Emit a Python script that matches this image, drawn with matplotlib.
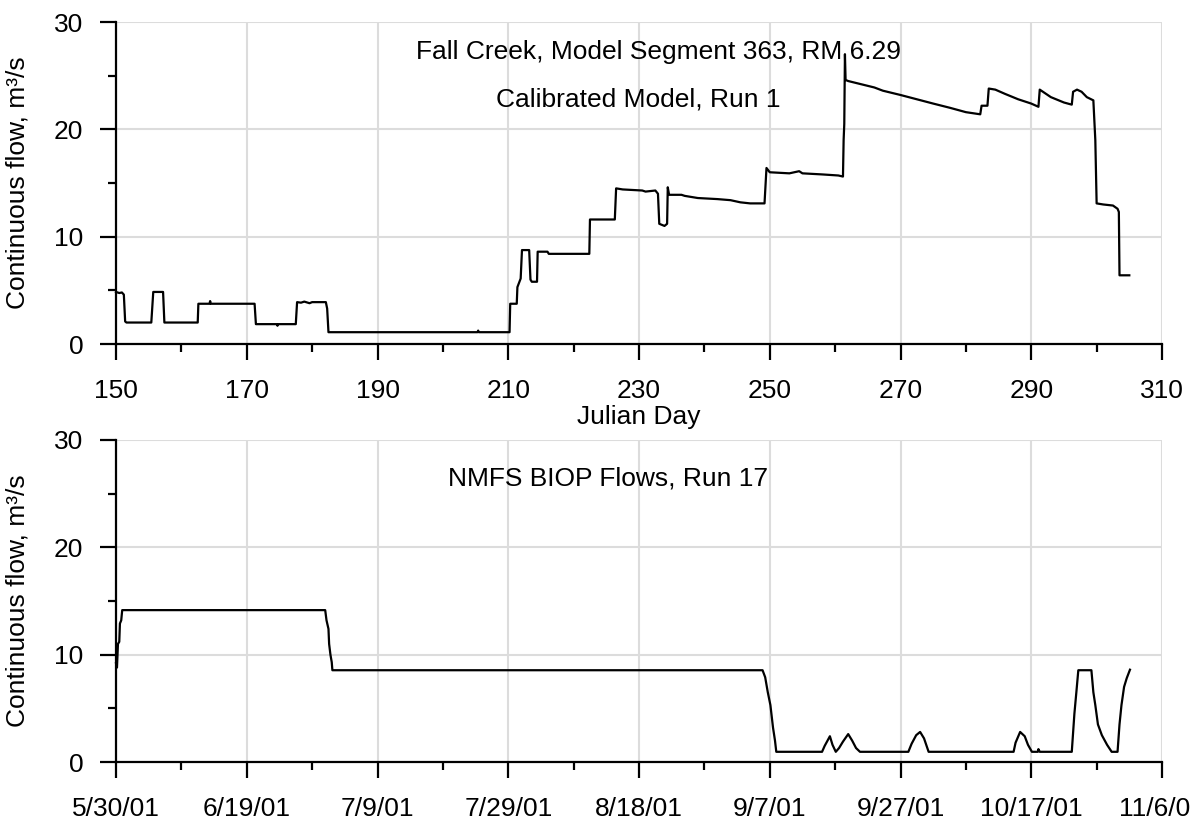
import matplotlib
matplotlib.use("Agg")
import matplotlib.pyplot as plt
from matplotlib.ticker import MultipleLocator, FixedLocator, FixedFormatter

plt.rcParams['font.family'] = ['Liberation Sans', 'DejaVu Sans']

# ---- Data: top panel (Calibrated Model, Run 1) ----
top_day = [150.0, 150.5, 150.9, 151.2, 151.4, 151.6, 155.4, 155.7, 157.2, 157.4,
           162.5, 162.6, 164.3, 164.4, 164.5, 171.2, 171.4, 174.6, 174.7, 174.8,
           177.5, 177.7, 178.3, 178.8, 179.6, 180.0, 182.1, 182.3, 182.5, 205.3,
           205.4, 205.5, 210.2, 210.3, 211.3, 211.4, 211.9, 212.1, 213.2, 213.4,
           213.6, 214.4, 214.5, 216.0, 216.2, 222.4, 222.5, 226.3, 226.5, 227.5,
           230.5, 231.0, 232.5, 232.9, 233.1, 233.9, 234.3, 234.4, 234.6, 236.5,
           237.0, 239.0, 242.0, 244.0, 245.5, 247.0, 249.2, 249.5, 250.0, 253.0,
           254.5, 255.0, 258.0, 260.5, 261.2, 261.3, 261.4, 261.5, 261.6, 262.0,
           264.0, 266.0, 267.3, 270.0, 272.5, 275.0, 277.6, 280.0, 282.2, 282.4,
           283.3, 283.5, 284.5, 286.0, 288.0, 290.0, 291.1, 291.3, 293.0, 295.0,
           296.2, 296.4, 297.0, 297.7, 298.5, 299.5, 299.8, 300.0, 301.0, 302.5,
           303.2, 303.4, 303.5, 305.0]
top_flow = [4.85, 4.75, 4.8, 4.6, 2.1, 2.0, 2.0, 4.85, 4.85, 2.0,
            2.0, 3.75, 3.75, 4.0, 3.75, 3.75, 1.85, 1.85, 1.7, 1.85,
            1.85, 3.9, 3.85, 3.95, 3.8, 3.9, 3.9, 3.3, 1.1, 1.1,
            1.25, 1.1, 1.1, 3.75, 3.75, 5.3, 6.1, 8.75, 8.75, 6.0,
            5.8, 5.8, 8.6, 8.6, 8.4, 8.4, 11.6, 11.6, 14.5, 14.4,
            14.3, 14.2, 14.3, 14.0, 11.2, 11.0, 11.2, 14.6, 13.9, 13.9,
            13.8, 13.6, 13.5, 13.4, 13.2, 13.1, 13.1, 16.4, 16.0, 15.9,
            16.1, 15.9, 15.8, 15.7, 15.6, 19.0, 20.5, 27.0, 24.6, 24.5,
            24.2, 23.9, 23.6, 23.2, 22.8, 22.4, 22.0, 21.6, 21.4, 22.2,
            22.2, 23.8, 23.7, 23.3, 22.8, 22.4, 22.1, 23.7, 23.0, 22.5,
            22.3, 23.5, 23.7, 23.5, 23.0, 22.7, 19.0, 13.1, 13.0, 12.9,
            12.6, 12.3, 6.4, 6.4]

# ---- Data: bottom panel (NMFS BIOP Flows, Run 17) ----
bot_day = [150.0, 150.15, 150.3, 150.5, 150.6, 150.8, 150.95, 182.0, 182.2, 182.5,
           182.6, 182.8, 183.0, 183.1, 248.9, 249.3, 249.7, 250.1, 250.5, 250.8,
           251.0, 258.0, 258.4, 259.2, 259.6, 260.1, 260.6, 261.2, 262.0, 262.6,
           263.2, 263.8, 271.2, 271.7, 272.4, 273.0, 273.6, 274.3, 287.3, 287.6,
           288.3, 289.0, 289.5, 290.1, 291.0, 291.1, 291.3, 296.2, 296.6, 296.9,
           297.2, 299.2, 299.5, 299.8, 300.2, 300.8, 301.6, 302.3, 303.2, 303.5,
           303.8, 304.2, 304.6, 305.1]
bot_flow = [9.2, 8.8, 11.0, 11.2, 12.9, 13.2, 14.15, 14.15, 13.2, 12.4,
            11.0, 10.0, 9.3, 8.55, 8.55, 7.9, 6.5, 5.3, 3.2, 2.0,
            0.95, 0.95, 1.5, 2.4, 1.6, 0.95, 1.3, 1.9, 2.6, 2.0,
            1.3, 0.95, 0.95, 1.7, 2.5, 2.8, 2.2, 0.95, 0.95, 1.8,
            2.8, 2.4, 1.6, 0.95, 0.95, 1.2, 0.95, 0.95, 4.5, 6.5,
            8.55, 8.55, 6.5, 5.3, 3.5, 2.5, 1.6, 0.95, 0.95, 3.5,
            5.3, 7.0, 7.8, 8.6]

x_ticks = [150, 170, 190, 210, 230, 250, 270, 290, 310]
top_tick_labels = ['150', '170', '190', '210', '230', '250', '270', '290', '310']
bot_tick_labels = ['5/30/01', '6/19/01', '7/9/01', '7/29/01', '8/18/01',
                   '9/7/01', '9/27/01', '10/17/01', '11/6/01']
y_ticks = [0, 10, 20, 30]

FS = 19
W, H = 1192, 825
fig = plt.figure(figsize=(W / 100, H / 100), dpi=100)

def px_axes(left, right, top, bottom):
    return fig.add_axes([left / W, 1 - bottom / H, (right - left) / W, (bottom - top) / H])

ax1 = px_axes(116, 1162, 22, 344)
ax2 = px_axes(116, 1162, 440, 762)

for ax, labels in ((ax1, top_tick_labels), (ax2, bot_tick_labels)):
    ax.set_xlim(150, 310)
    ax.set_ylim(0, 30)
    ax.xaxis.set_major_locator(FixedLocator(x_ticks))
    ax.xaxis.set_major_formatter(FixedFormatter(labels))
    ax.xaxis.set_minor_locator(MultipleLocator(10))
    ax.yaxis.set_major_locator(FixedLocator(y_ticks))
    ax.yaxis.set_minor_locator(MultipleLocator(5))
    for s in ('top', 'right'):
        ax.spines[s].set_visible(False)
    for s in ('left', 'bottom'):
        ax.spines[s].set_linewidth(1.6)
        ax.spines[s].set_color('black')
    ax.grid(True, which='major', color='#dcdcdc', linewidth=1.5)
    ax.set_axisbelow(True)
    ax.tick_params(which='major', direction='out', length=11.5, width=1.6,
                   labelsize=FS, colors='black')
    ax.tick_params(which='minor', direction='out', length=6, width=1.6, colors='black')
    ax.tick_params(axis='x', which='major', pad=14)
    ax.tick_params(axis='y', which='major', pad=12)
    ax.set_ylabel('Continuous flow, m³/s', fontsize=FS)
    ax.yaxis.set_label_coords((30 - 116) / 1046, 0.5)

ax1.plot(top_day, top_flow, color='black', linewidth=1.6, clip_on=False)
ax2.plot(bot_day, bot_flow, color='black', linewidth=1.6, clip_on=False)

ax1.set_xlabel('Julian Day', fontsize=FS, labelpad=1)

fig.text(658 / W, 1 - 52 / H, 'Fall Creek, Model Segment 363, RM 6.29',
         fontsize=FS, ha='center', va='center')
fig.text(638 / W, 1 - 100 / H, 'Calibrated Model, Run 1',
         fontsize=FS, ha='center', va='center')
fig.text(608 / W, 1 - 479 / H, 'NMFS BIOP Flows, Run 17',
         fontsize=FS, ha='center', va='center')

fig.savefig('out.png', dpi=100)
